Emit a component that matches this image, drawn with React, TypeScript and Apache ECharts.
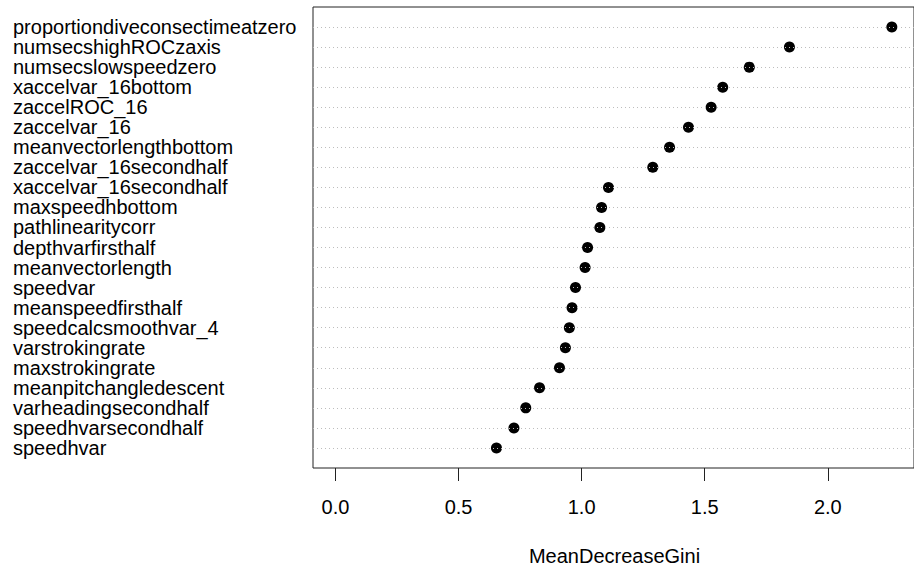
import React, { useEffect, useRef } from "react";
import * as echarts from "echarts";

const variables = [
  "proportiondiveconsectimeatzero",
  "numsecshighROCzaxis",
  "numsecslowspeedzero",
  "xaccelvar_16bottom",
  "zaccelROC_16",
  "zaccelvar_16",
  "meanvectorlengthbottom",
  "zaccelvar_16secondhalf",
  "xaccelvar_16secondhalf",
  "maxspeedhbottom",
  "pathlinearitycorr",
  "depthvarfirsthalf",
  "meanvectorlength",
  "speedvar",
  "meanspeedfirsthalf",
  "speedcalcsmoothvar_4",
  "varstrokingrate",
  "maxstrokingrate",
  "meanpitchangledescent",
  "varheadingsecondhalf",
  "speedhvarsecondhalf",
  "speedhvar",
];

const meanDecreaseGini = [
  2.26, 1.844, 1.681, 1.573, 1.526, 1.434, 1.357, 1.289, 1.109, 1.081, 1.074,
  1.024, 1.014, 0.975, 0.961, 0.95, 0.934, 0.91, 0.829, 0.773, 0.725, 0.654,
];

const xTicks = [0, 0.5, 1.0, 1.5, 2.0];
const xTitle = "MeanDecreaseGini";

const FONT = "'Liberation Sans', Arial, Helvetica, sans-serif";

export default function App() {
  const ref = useRef<HTMLDivElement>(null);

  useEffect(() => {
    if (!ref.current) return;
    const chart = echarts.init(ref.current, undefined, { renderer: "svg" });
    const n = variables.length;
    const rowPos = variables.map((_, i) => n - i);
    const boxTop = 7;
    const boxH = 461;
    const rowH = boxH / (n + 1);

    chart.setOption({
      animation: false,
      backgroundColor: "#ffffff",
      grid: [
        {
          left: 313,
          top: boxTop,
          width: 608,
          height: boxH,
          show: true,
          borderColor: "#222222",
          borderWidth: 1,
          backgroundColor: "transparent",
        },
        {
          left: 313,
          top: boxTop + rowH / 2,
          width: 608,
          height: rowH * n,
          show: false,
        },
      ],
      xAxis: [
        {
          type: "value",
          gridIndex: 0,
          min: -0.0912,
          max: 2.35,
          axisLine: { show: false },
          splitLine: { show: false },
          axisTick: {
            show: true,
            length: 13,
            customValues: xTicks,
            lineStyle: { color: "#222222", width: 1 },
          },
          axisLabel: {
            customValues: xTicks,
            formatter: (v: number) => v.toFixed(1),
            margin: 29,
            fontSize: 20,
            color: "#000000",
            fontFamily: FONT,
          },
        },
        {
          type: "value",
          gridIndex: 1,
          show: false,
          min: 0,
          max: 1,
        },
      ],
      yAxis: [
        {
          type: "value",
          gridIndex: 0,
          min: 0,
          max: n + 1,
          axisLine: { show: false },
          axisTick: { show: false },
          splitLine: { show: false },
          axisLabel: { show: false },
        },
        {
          type: "category",
          gridIndex: 1,
          data: variables,
          inverse: true,
          axisLine: { show: false },
          axisTick: { show: false },
          splitLine: { show: false },
          axisLabel: {
            interval: 0,
            align: "left",
            verticalAlign: "middle",
            margin: 300,
            fontSize: 20,
            lineHeight: 18,
            color: "#000000",
            fontFamily: FONT,
          },
        },
      ],
      graphic: [
        {
          type: "text",
          x: 614.5,
          y: 555.5,
          style: {
            text: xTitle,
            fontSize: 20,
            lineHeight: 16,
            align: "center",
            verticalAlign: "middle",
            fill: "#000000",
            fontFamily: FONT,
          },
        },
      ],
      series: [
        {
          type: "scatter",
          xAxisIndex: 0,
          yAxisIndex: 0,
          symbol: "circle",
          symbolSize: 11,
          itemStyle: { color: "#000000", opacity: 1 },
          data: meanDecreaseGini.map((v, i) => [v, rowPos[i]]),
          z: 3,
          markLine: {
            silent: true,
            symbol: ["none", "none"],
            label: { show: false },
            lineStyle: { type: [1, 3], color: "#bdbdbd", width: 1 },
            emphasis: { disabled: true },
            data: rowPos.map((p) => ({ yAxis: p })),
          },
        },
      ],
    });
    return () => chart.dispose();
  }, []);

  return (
    <div
      ref={ref}
      style={{ position: "fixed", left: 0, top: 0, width: 914, height: 565 }}
    />
  );
}
